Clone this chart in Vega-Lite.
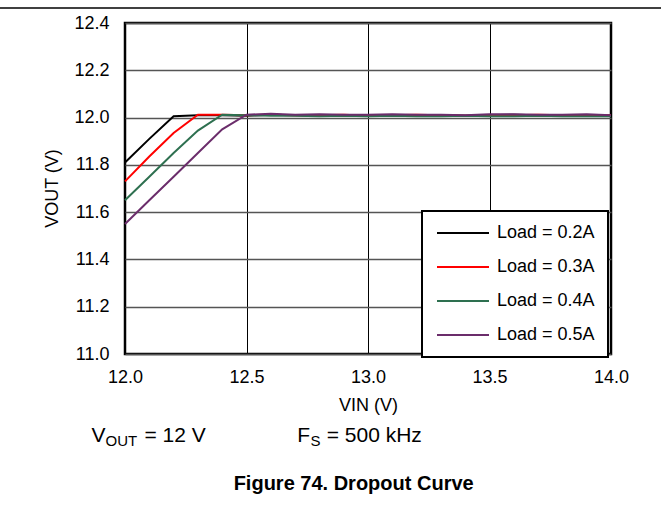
{
  "$schema": "https://vega.github.io/schema/vega-lite/v6.json",
  "width": 486,
  "height": 331,
  "autosize": {"type": "none"},
  "padding": {"left": 125, "top": 23, "right": 50, "bottom": 154},
  "background": "white",
  "config": {
    "font": "Liberation Sans",
    "view": {"stroke": "#000000", "strokeWidth": 2.5},
    "legend": {"strokeWidth": 2}
  },
  "layer": [
    {
      "data": {"values": [
        {"vin": 12.0, "vout": 11.81, "load": "Load = 0.2A"},
        {"vin": 12.1, "vout": 11.91, "load": "Load = 0.2A"},
        {"vin": 12.2, "vout": 12.006, "load": "Load = 0.2A"},
        {"vin": 12.3, "vout": 12.010, "load": "Load = 0.2A"},
        {"vin": 12.4, "vout": 12.010, "load": "Load = 0.2A"},
        {"vin": 12.5, "vout": 12.008, "load": "Load = 0.2A"},
        {"vin": 12.6, "vout": 12.012, "load": "Load = 0.2A"},
        {"vin": 12.7, "vout": 12.010, "load": "Load = 0.2A"},
        {"vin": 12.8, "vout": 12.008, "load": "Load = 0.2A"},
        {"vin": 12.9, "vout": 12.010, "load": "Load = 0.2A"},
        {"vin": 13.0, "vout": 12.010, "load": "Load = 0.2A"},
        {"vin": 13.1, "vout": 12.008, "load": "Load = 0.2A"},
        {"vin": 13.2, "vout": 12.010, "load": "Load = 0.2A"},
        {"vin": 13.3, "vout": 12.010, "load": "Load = 0.2A"},
        {"vin": 13.4, "vout": 12.008, "load": "Load = 0.2A"},
        {"vin": 13.5, "vout": 12.010, "load": "Load = 0.2A"},
        {"vin": 13.6, "vout": 12.012, "load": "Load = 0.2A"},
        {"vin": 13.7, "vout": 12.010, "load": "Load = 0.2A"},
        {"vin": 13.8, "vout": 12.008, "load": "Load = 0.2A"},
        {"vin": 13.9, "vout": 12.010, "load": "Load = 0.2A"},
        {"vin": 14.0, "vout": 12.008, "load": "Load = 0.2A"},
        {"vin": 12.0, "vout": 11.73, "load": "Load = 0.3A"},
        {"vin": 12.1, "vout": 11.835, "load": "Load = 0.3A"},
        {"vin": 12.2, "vout": 11.935, "load": "Load = 0.3A"},
        {"vin": 12.3, "vout": 12.012, "load": "Load = 0.3A"},
        {"vin": 12.4, "vout": 12.012, "load": "Load = 0.3A"},
        {"vin": 12.5, "vout": 12.010, "load": "Load = 0.3A"},
        {"vin": 12.6, "vout": 12.012, "load": "Load = 0.3A"},
        {"vin": 12.7, "vout": 12.010, "load": "Load = 0.3A"},
        {"vin": 12.8, "vout": 12.010, "load": "Load = 0.3A"},
        {"vin": 12.9, "vout": 12.012, "load": "Load = 0.3A"},
        {"vin": 13.0, "vout": 12.008, "load": "Load = 0.3A"},
        {"vin": 13.1, "vout": 12.010, "load": "Load = 0.3A"},
        {"vin": 13.2, "vout": 12.012, "load": "Load = 0.3A"},
        {"vin": 13.3, "vout": 12.010, "load": "Load = 0.3A"},
        {"vin": 13.4, "vout": 12.008, "load": "Load = 0.3A"},
        {"vin": 13.5, "vout": 12.010, "load": "Load = 0.3A"},
        {"vin": 13.6, "vout": 12.010, "load": "Load = 0.3A"},
        {"vin": 13.7, "vout": 12.012, "load": "Load = 0.3A"},
        {"vin": 13.8, "vout": 12.010, "load": "Load = 0.3A"},
        {"vin": 13.9, "vout": 12.008, "load": "Load = 0.3A"},
        {"vin": 14.0, "vout": 12.010, "load": "Load = 0.3A"},
        {"vin": 12.0, "vout": 11.65, "load": "Load = 0.4A"},
        {"vin": 12.1, "vout": 11.75, "load": "Load = 0.4A"},
        {"vin": 12.2, "vout": 11.85, "load": "Load = 0.4A"},
        {"vin": 12.3, "vout": 11.945, "load": "Load = 0.4A"},
        {"vin": 12.4, "vout": 12.012, "load": "Load = 0.4A"},
        {"vin": 12.5, "vout": 12.010, "load": "Load = 0.4A"},
        {"vin": 12.6, "vout": 12.008, "load": "Load = 0.4A"},
        {"vin": 12.7, "vout": 12.008, "load": "Load = 0.4A"},
        {"vin": 12.8, "vout": 12.006, "load": "Load = 0.4A"},
        {"vin": 12.9, "vout": 12.008, "load": "Load = 0.4A"},
        {"vin": 13.0, "vout": 12.006, "load": "Load = 0.4A"},
        {"vin": 13.1, "vout": 12.008, "load": "Load = 0.4A"},
        {"vin": 13.2, "vout": 12.006, "load": "Load = 0.4A"},
        {"vin": 13.3, "vout": 12.006, "load": "Load = 0.4A"},
        {"vin": 13.4, "vout": 12.008, "load": "Load = 0.4A"},
        {"vin": 13.5, "vout": 12.006, "load": "Load = 0.4A"},
        {"vin": 13.6, "vout": 12.006, "load": "Load = 0.4A"},
        {"vin": 13.7, "vout": 12.008, "load": "Load = 0.4A"},
        {"vin": 13.8, "vout": 12.006, "load": "Load = 0.4A"},
        {"vin": 13.9, "vout": 12.006, "load": "Load = 0.4A"},
        {"vin": 14.0, "vout": 12.006, "load": "Load = 0.4A"},
        {"vin": 12.0, "vout": 11.55, "load": "Load = 0.5A"},
        {"vin": 12.1, "vout": 11.65, "load": "Load = 0.5A"},
        {"vin": 12.2, "vout": 11.75, "load": "Load = 0.5A"},
        {"vin": 12.3, "vout": 11.85, "load": "Load = 0.5A"},
        {"vin": 12.4, "vout": 11.95, "load": "Load = 0.5A"},
        {"vin": 12.5, "vout": 12.012, "load": "Load = 0.5A"},
        {"vin": 12.6, "vout": 12.016, "load": "Load = 0.5A"},
        {"vin": 12.7, "vout": 12.012, "load": "Load = 0.5A"},
        {"vin": 12.8, "vout": 12.014, "load": "Load = 0.5A"},
        {"vin": 12.9, "vout": 12.012, "load": "Load = 0.5A"},
        {"vin": 13.0, "vout": 12.012, "load": "Load = 0.5A"},
        {"vin": 13.1, "vout": 12.014, "load": "Load = 0.5A"},
        {"vin": 13.2, "vout": 12.012, "load": "Load = 0.5A"},
        {"vin": 13.3, "vout": 12.012, "load": "Load = 0.5A"},
        {"vin": 13.4, "vout": 12.010, "load": "Load = 0.5A"},
        {"vin": 13.5, "vout": 12.014, "load": "Load = 0.5A"},
        {"vin": 13.6, "vout": 12.014, "load": "Load = 0.5A"},
        {"vin": 13.7, "vout": 12.012, "load": "Load = 0.5A"},
        {"vin": 13.8, "vout": 12.012, "load": "Load = 0.5A"},
        {"vin": 13.9, "vout": 12.014, "load": "Load = 0.5A"},
        {"vin": 14.0, "vout": 12.010, "load": "Load = 0.5A"}
      ]},
      "mark": {"type": "line", "strokeWidth": 2},
      "encoding": {
        "x": {
          "field": "vin", "type": "quantitative",
          "scale": {"domain": [12, 14], "nice": false, "zero": false},
          "axis": {
            "title": "VIN (V)", "values": [12, 12.5, 13, 13.5, 14], "format": ".1f",
            "labelFontSize": 18, "labelColor": "#000", "labelPadding": 14,
            "ticks": false, "tickSize": 0, "domain": false,
            "grid": true, "gridColor": "#000", "gridWidth": 1, "gridOpacity": 1,
            "titleFontSize": 18, "titleFontWeight": "normal", "titleColor": "#000", "titlePadding": 10,
            "labelFlush": false, "labelOverlap": false
          }
        },
        "y": {
          "field": "vout", "type": "quantitative",
          "scale": {"domain": [11, 12.4], "nice": false, "zero": false},
          "axis": {
            "title": "VOUT (V)", "values": [11, 11.2, 11.4, 11.6, 11.8, 12, 12.2, 12.4], "format": ".1f",
            "labelFontSize": 18, "labelColor": "#000", "labelPadding": 16,
            "ticks": false, "tickSize": 0, "domain": false,
            "grid": true, "gridColor": "#555", "gridWidth": 1.5, "gridOpacity": 1,
            "titleFontSize": 18, "titleFontWeight": "normal", "titleColor": "#000",
            "titleAngle": -90, "titleX": -68, "titleY": 165, "titleBaseline": "alphabetic", "titleAlign": "center",
            "labelFlush": false, "labelOverlap": false
          }
        },
        "color": {
          "field": "load", "type": "nominal",
          "scale": {
            "domain": ["Load = 0.2A", "Load = 0.3A", "Load = 0.4A", "Load = 0.5A"],
            "range": ["#000000", "#ff0000", "#2e7050", "#6b2d6b"]
          },
          "legend": {
            "title": null, "orient": "none", "legendX": 297, "legendY": 188,
            "symbolType": "M-3.25,0H3.25", "symbolSize": 256, "symbolStrokeWidth": 2,
            "symbolOffset": 19, "labelOffset": 25,
            "labelFontSize": 18, "labelColor": "#000", "labelLimit": 0,
            "padding": 13, "rowPadding": 16,
            "strokeColor": "#000", "fillColor": "#fff"
          }
        }
      }
    },
    {
      "data": {"values": [{"label": "V"}]},
      "mark": {"type": "text", "align": "left", "baseline": "alphabetic", "fontSize": 21, "color": "#000"},
      "encoding": {
        "x": {"datum": 11.862, "type": "quantitative"},
        "y": {"datum": 10.627, "type": "quantitative"},
        "text": {"field": "label"}
      }
    },
    {
      "data": {"values": [{"label": "OUT"}]},
      "mark": {"type": "text", "align": "left", "baseline": "alphabetic", "fontSize": 15, "color": "#000"},
      "encoding": {
        "x": {"datum": 11.920, "type": "quantitative"},
        "y": {"datum": 10.610, "type": "quantitative"},
        "text": {"field": "label"}
      }
    },
    {
      "data": {"values": [{"label": "= 12 V"}]},
      "mark": {"type": "text", "align": "left", "baseline": "alphabetic", "fontSize": 21, "color": "#000"},
      "encoding": {
        "x": {"datum": 12.080, "type": "quantitative"},
        "y": {"datum": 10.627, "type": "quantitative"},
        "text": {"field": "label"}
      }
    },
    {
      "data": {"values": [{"label": "F"}]},
      "mark": {"type": "text", "align": "left", "baseline": "alphabetic", "fontSize": 21, "color": "#000"},
      "encoding": {
        "x": {"datum": 12.709, "type": "quantitative"},
        "y": {"datum": 10.627, "type": "quantitative"},
        "text": {"field": "label"}
      }
    },
    {
      "data": {"values": [{"label": "S"}]},
      "mark": {"type": "text", "align": "left", "baseline": "alphabetic", "fontSize": 15, "color": "#000"},
      "encoding": {
        "x": {"datum": 12.763, "type": "quantitative"},
        "y": {"datum": 10.610, "type": "quantitative"},
        "text": {"field": "label"}
      }
    },
    {
      "data": {"values": [{"label": "= 500 kHz"}]},
      "mark": {"type": "text", "align": "left", "baseline": "alphabetic", "fontSize": 21, "color": "#000"},
      "encoding": {
        "x": {"datum": 12.830, "type": "quantitative"},
        "y": {"datum": 10.627, "type": "quantitative"},
        "text": {"field": "label"}
      }
    },
    {
      "data": {"values": [{"label": "Figure 74. Dropout Curve"}]},
      "mark": {"type": "text", "align": "center", "baseline": "alphabetic", "fontSize": 20, "fontWeight": "bold", "color": "#000"},
      "encoding": {
        "x": {"datum": 12.941, "type": "quantitative"},
        "y": {"datum": 10.424, "type": "quantitative"},
        "text": {"field": "label"}
      }
    },
    {
      "data": {"values": [{"label": "page rule"}]},
      "mark": {"type": "rule", "color": "#000", "strokeWidth": 1.5},
      "encoding": {
        "x": {"datum": 11.483, "type": "quantitative"},
        "x2": {"datum": 14.206},
        "y": {"datum": 12.463, "type": "quantitative"}
      }
    }
  ]
}
